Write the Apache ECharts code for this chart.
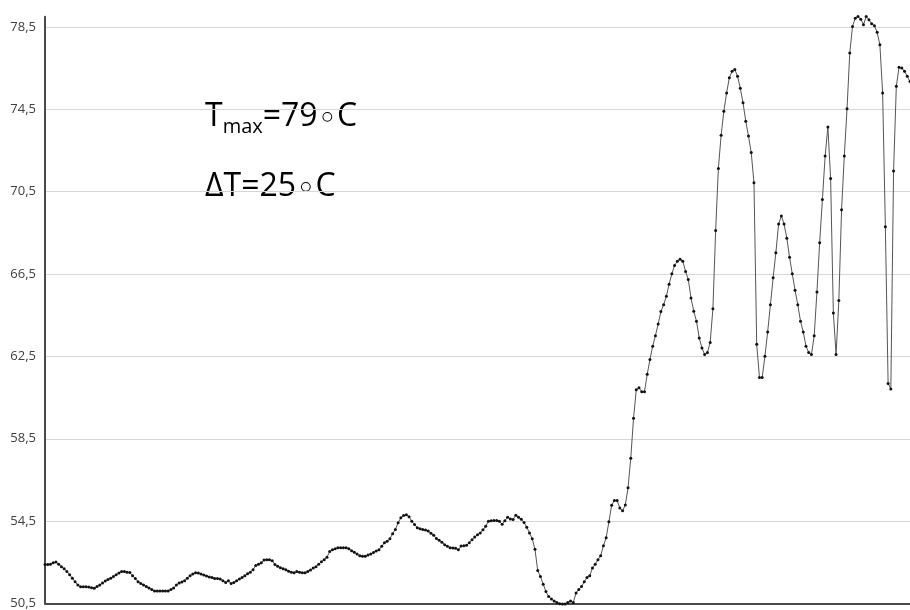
<!DOCTYPE html>
<html>
<head>
<meta charset="utf-8">
<script src="https://cdn.jsdelivr.net/npm/echarts@6/dist/echarts.min.js"></script>
<style>
html,body{margin:0;padding:0;background:#fff;}
#chart{width:910px;height:610px;}
</style>
</head>
<body>
<div id="chart"></div>
<script>
// Temperature samples (°C), in four segments
const tempsA = [
  52.40, 52.40, 52.41, 52.48, 52.51, 52.41, 52.29, 52.19, 52.05, 51.90,
  51.73, 51.56, 51.40, 51.31, 51.31, 51.31, 51.30, 51.27, 51.24, 51.32,
  51.40, 51.49, 51.59, 51.66, 51.73, 51.81, 51.90, 51.98, 52.05, 52.05,
  52.02, 52.00, 51.85, 51.71, 51.56, 51.47, 51.40, 51.32, 51.25, 51.18,
  51.11, 51.11, 51.11, 51.11, 51.11, 51.11, 51.18, 51.25, 51.40, 51.49,
  51.54, 51.61, 51.73, 51.85, 51.93, 51.99, 51.98, 51.93, 51.88, 51.84,
  51.79, 51.76, 51.72, 51.71, 51.69, 51.61, 51.52, 51.60, 51.47, 51.52,
  51.60, 51.69, 51.76, 51.85, 51.95, 52.02, 52.14, 52.34, 52.41, 52.48
];
const tempsB = [
  52.61, 52.63, 52.63, 52.58, 52.40, 52.31, 52.24, 52.19, 52.14, 52.07,
  52.02, 51.99, 52.05, 52.02, 51.99, 51.99, 52.05, 52.13, 52.22, 52.29,
  52.41, 52.53, 52.63, 52.75, 53.02, 53.11, 53.16, 53.21, 53.21, 53.21,
  53.21, 53.16, 53.06, 52.99, 52.90, 52.82, 52.79, 52.80, 52.85, 52.90,
  52.98, 53.05, 53.11, 53.28, 53.45, 53.52, 53.64, 53.89, 54.10, 54.42,
  54.66, 54.78, 54.81, 54.71, 54.49, 54.34, 54.18, 54.13, 54.09, 54.07,
  54.02, 53.91, 53.81, 53.66, 53.57, 53.48, 53.35, 53.28, 53.21, 53.19,
  53.18, 53.11, 53.29, 53.30, 53.33, 53.45, 53.60, 53.73, 53.84, 53.93
];
const tempsC = [
  54.08, 54.25, 54.50, 54.52, 54.53, 54.53, 54.49, 54.35, 54.52, 54.69,
  54.61, 54.58, 54.79, 54.69, 54.59, 54.44, 54.20, 53.93, 53.64, 53.13,
  52.10, 51.81, 51.44, 51.08, 50.84, 50.72, 50.62, 50.55, 50.49, 50.47,
  50.47, 50.55, 50.62, 50.55, 51.01, 51.18, 51.32, 51.56, 51.76, 51.85,
  52.22, 52.41, 52.63, 52.82, 53.31, 53.69, 54.47, 55.27, 55.50, 55.50,
  55.14, 55.00, 55.29, 56.12, 57.56, 59.50, 60.88, 60.98, 60.79, 60.79,
  61.63, 62.35, 63.00, 63.51, 64.07, 64.68, 65.01, 65.42, 66.01, 66.51,
  66.92, 67.12, 67.22, 67.12, 66.63, 66.24, 65.34, 64.69, 64.21, 63.40
];
const tempsD = [
  62.91, 62.59, 62.69, 63.18, 64.82, 68.61, 71.63, 73.24, 74.41, 75.30,
  76.03, 76.35, 76.43, 76.11, 75.53, 74.82, 73.92, 73.20, 72.40, 70.93,
  63.09, 61.48, 61.48, 62.51, 63.69, 65.01, 66.32, 67.54, 68.93, 69.32,
  68.93, 68.24, 67.32, 66.51, 65.72, 65.01, 64.21, 63.69, 63.00, 62.69,
  62.59, 63.50, 65.63, 68.02, 70.12, 72.24, 73.64, 71.14, 64.61, 62.59,
  65.22, 69.62, 72.24, 74.53, 77.24, 78.53, 78.93, 79.01, 78.88, 78.61,
  79.01, 78.85, 78.66, 78.56, 78.24, 77.64, 75.30, 68.80, 61.19, 60.92,
  71.51, 75.62, 76.54, 76.51, 76.35, 76.11, 75.85
];
const temps = tempsA.concat(tempsB, tempsC, tempsD);
const sampleIndex = temps.map((_, i) => i);

// y axis ticks
const yMin = 50.5;
const yMax = 79;
const yStep = 4;
const yTickLabels = ['50,5', '54,5', '58,5', '62,5', '66,5', '70,5', '74,5', '78,5'];

// annotations
const annoMain = ['T', 'max', '=79', '\u25E6', 'C'];
const annoDelta = ['\u0394T=25', '\u25E6', 'C'];

const chart = echarts.init(document.getElementById('chart'), null, {renderer: 'canvas'});
const richStyle = {
  a: {fontSize: 32, fontFamily: 'Open Sans', color: '#000', lineHeight: 40},
  b: {fontSize: 20, fontFamily: 'Open Sans', color: '#000', lineHeight: 24, verticalAlign: 'bottom'},
  c: {fontSize: 33, fontFamily: 'DejaVu Sans', color: '#000', lineHeight: 36, verticalAlign: 'bottom'}
};
const option = {
  animation: false,
  backgroundColor: '#ffffff',
  grid: {left: 45, top: 16.7, width: 865.8, bottom: 4, containLabel: false},
  xAxis: {
    type: 'category',
    data: sampleIndex,
    boundaryGap: false,
    axisLine: {show: true, lineStyle: {color: '#4a4a4a', width: 2}},
    axisTick: {show: false},
    axisLabel: {show: false},
    splitLine: {show: false}
  },
  yAxis: {
    type: 'value',
    min: yMin,
    max: yMax,
    interval: yStep,
    axisLine: {show: true, lineStyle: {color: '#4a4a4a', width: 2}},
    axisTick: {show: false},
    axisLabel: {
      showMaxLabel: false,
      margin: 9,
      color: '#404040',
      fontFamily: 'Open Sans',
      fontSize: 13,
      formatter: function (v) {
        const idx = Math.round((v - yMin) / yStep);
        if (Math.abs(v - (yMin + idx * yStep)) > 1e-6) return '';
        return yTickLabels[idx] || '';
      }
    },
    splitLine: {show: true, showMaxLine: false, showMinLine: false, lineStyle: {color: '#d6d6d6', width: 1}}
  },
  series: [{
    type: 'line',
    data: temps,
    clip: false,
    showAllSymbol: true,
    symbol: 'circle',
    symbolSize: 3,
    itemStyle: {color: '#111111'},
    lineStyle: {color: '#555555', width: 1},
    emphasis: {disabled: true}
  }],
  graphic: [
    {
      type: 'text',
      left: 205,
      top: 101,
      style: {
        text: '{a|' + annoMain[0] + '}{b|' + annoMain[1] + '}{a|' + annoMain[2] + '}{c|' + annoMain[3] + '}{a|' + annoMain[4] + '}',
        rich: richStyle
      }
    },
    {
      type: 'text',
      left: 205,
      top: 171,
      style: {
        text: '{a|' + annoDelta[0] + '}{c|' + annoDelta[1] + '}{a|' + annoDelta[2] + '}',
        rich: richStyle
      }
    }
  ]
};
chart.setOption(option);
</script>
</body>
</html>
